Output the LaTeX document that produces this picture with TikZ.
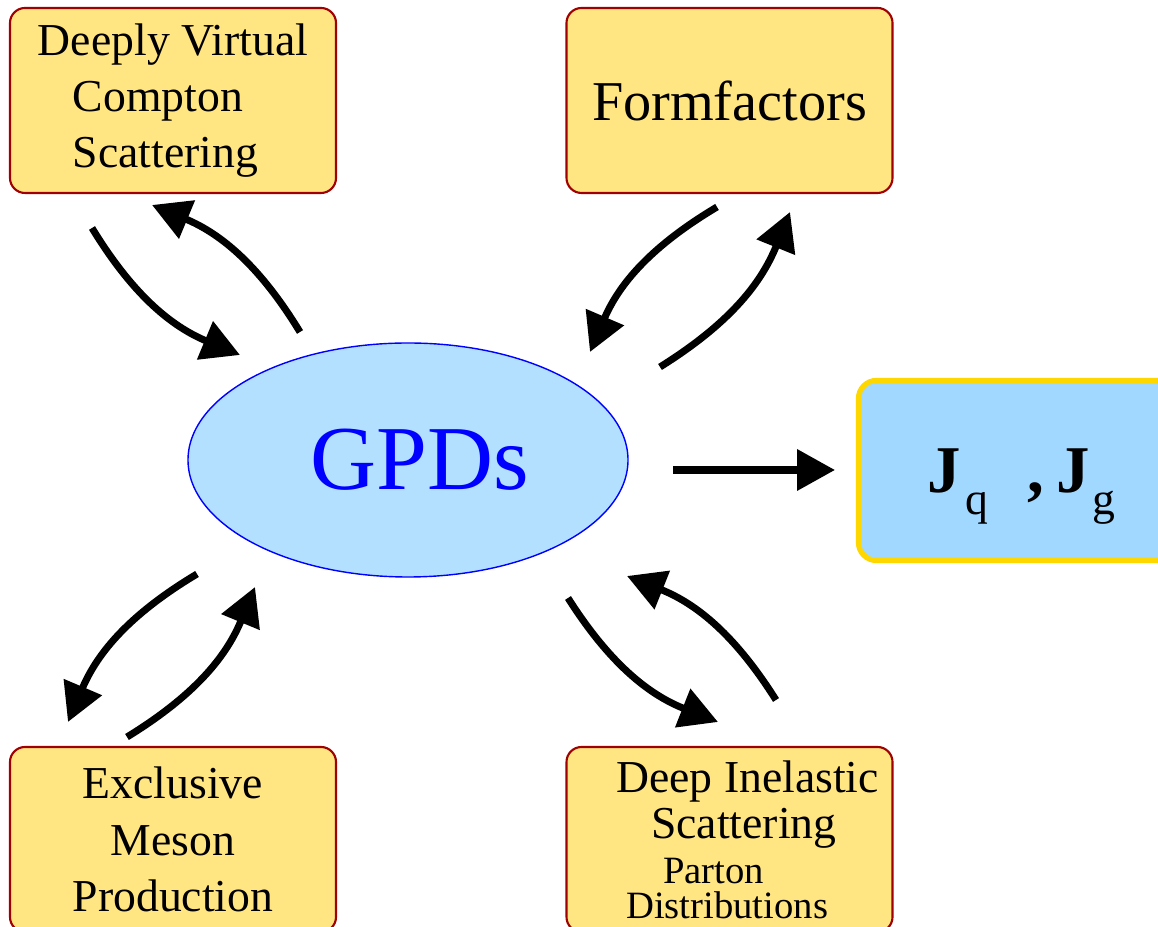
\documentclass[tikz,border=0pt]{standalone}
\usepackage{fontspec}
\setmainfont{Liberation Serif}
\usetikzlibrary{arrows.meta}
\usetikzlibrary{shapes.geometric}
\definecolor{boxyellow}{RGB}{255,230,130}
\definecolor{boxred}{RGB}{160,0,0}
\definecolor{gpdblue}{RGB}{179,224,255}
\definecolor{jblue}{RGB}{160,216,255}
\definecolor{jgold}{RGB}{255,215,0}
\tikzstyle{box} = [draw=boxred, fill=boxyellow, line width=0.6pt, rounded corners=0.15cm, minimum width=3.26cm, minimum height=1.85cm, inner sep=0pt, font=\fontsize{13}{16}\selectfont]
\tikzstyle{arrow} = [-{Triangle[length=0.38cm, width=0.4cm]}, line width=2pt]

\begin{document}
\begin{tikzpicture}
	\useasboundingbox (0,0) rectangle (11.58,9.27);
	\node[box, align=left](dvcs) at (1.73, 8.265){Deeply Virtual\\\hspace*{0.35cm}Compton\\\hspace*{0.35cm}Scattering};
	\node[box, font=\fontsize{16}{19}\selectfont](form) at (7.295, 8.265){Formfactors};
	\node[box, align=center](meson) at (1.73, 0.875){Exclusive\\Meson\\Production};
	\node[box, align=left, font=\fontsize{13}{13.3}\selectfont](dis) at (7.295, 0.875){\hspace*{0.36cm}Deep Inelastic\\\hspace*{0.71cm}Scattering\\[-0.5pt]\hspace*{0.83cm}{\fontsize{11}{11}\selectfont Parton}\\[-3.5pt]\hspace*{0.46cm}{\fontsize{11}{11}\selectfont Distributions}};
	\node[ellipse, draw=blue, fill=gpdblue, line width=0.4pt, minimum width=4.4cm, minimum height=2.34cm, inner sep=0pt, text=blue, font=\fontsize{26}{26}\selectfont](gpd) at (4.08, 4.67){\hspace*{0.24cm}GPDs};
	\node[draw=jgold, fill=jblue, line width=1.5pt, rounded corners=0.18cm, minimum width=3.3cm, minimum height=1.8cm](jbox) at (10.235, 4.565){};
	\node[anchor=base west, inner sep=0pt](jtext) at (9.27, 4.34){{\fontsize{19}{19}\selectfont\bfseries J}\hspace{0.04cm}\raisebox{-0.22cm}{\fontsize{13}{13}\selectfont q}\hspace{0.4cm}{\fontsize{19}{19}\selectfont\bfseries ,\hspace{0.12cm}J}\hspace{0.02cm}\raisebox{-0.22cm}{\fontsize{13}{13}\selectfont g}};

	\coordinate(a1) at (0.92, 6.99);
	\coordinate(a2) at (2.40, 5.72);
	\coordinate(a3) at (3.00, 5.95);
	\coordinate(a4) at (1.52, 7.22);
	\coordinate(b1) at (7.17, 7.20);
	\coordinate(b2) at (5.90, 5.75);
	\coordinate(b3) at (6.60, 5.60);
	\coordinate(b4) at (7.90, 7.15);
	\coordinate(c1) at (1.97, 3.53);
	\coordinate(c2) at (0.68, 2.05);
	\coordinate(c3) at (1.27, 1.90);
	\coordinate(c4) at (2.55, 3.40);
	\coordinate(d1) at (5.68, 3.29);
	\coordinate(d2) at (7.18, 2.05);
	\coordinate(d3) at (7.76, 2.27);
	\coordinate(d4) at (6.27, 3.51);
	\coordinate(e1) at (6.73, 4.57);
	\coordinate(e2) at (8.35, 4.57);

	\draw[arrow](a1) to[bend right=18] (a2);
	\draw[arrow](a3) to[bend right=18] (a4);
	\draw[arrow](b1) to[bend right=18] (b2);
	\draw[arrow](b3) to[bend right=18] (b4);
	\draw[arrow](c1) to[bend right=18] (c2);
	\draw[arrow](c3) to[bend right=18] (c4);
	\draw[arrow](d1) to[bend right=18] (d2);
	\draw[arrow](d3) to[bend right=18] (d4);
	\draw[arrow](e1) -- (e2);
\end{tikzpicture}
\end{document}
